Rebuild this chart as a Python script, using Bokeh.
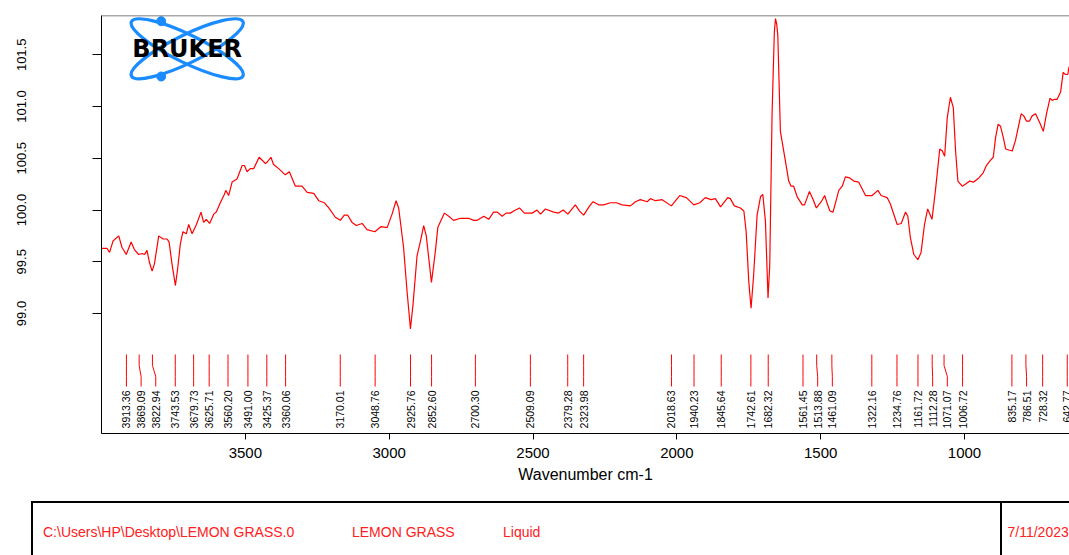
import math
from bokeh.plotting import figure
from bokeh.models import Range1d, FixedTicker, PrintfTickFormatter, Span, Div
from bokeh.layouts import column
from bokeh.embed import file_html
from bokeh.resources import INLINE
from bokeh.core.properties import value

# ---------------- data ----------------
wavenumber = [
    3998, 3981, 3972, 3960, 3940, 3929, 3914, 3897, 3886, 3871, 3859, 3850, 3842, 3833, 3824, 3816,
    3801, 3786, 3772, 3765, 3755, 3743, 3735, 3726, 3717, 3705, 3697, 3685, 3670, 3654, 3645, 3636,
    3624, 3610, 3601, 3587, 3573, 3568, 3558, 3546, 3529, 3511, 3503, 3494, 3483, 3471, 3452, 3430,
    3425, 3411, 3402, 3384, 3361, 3347, 3326, 3303, 3285, 3262, 3245, 3225, 3210, 3187, 3170, 3156,
    3144, 3129, 3114, 3094, 3077, 3050, 3028, 3007, 2990, 2976, 2967, 2950, 2938, 2926, 2917, 2903,
    2892, 2880, 2871, 2853, 2839, 2831, 2808, 2793, 2776, 2752, 2724, 2706, 2694, 2671, 2654, 2637,
    2625, 2607, 2594, 2579, 2567, 2547, 2530, 2503, 2486, 2474, 2457, 2428, 2411, 2395, 2379, 2353,
    2338, 2324, 2303, 2291, 2272, 2254, 2231, 2210, 2190, 2161, 2144, 2127, 2103, 2092, 2074, 2051,
    2019, 1990, 1967, 1941, 1920, 1901, 1881, 1866, 1848, 1823, 1814, 1800, 1779, 1767, 1759, 1750,
    1742, 1733, 1721, 1709, 1701, 1692, 1683, 1677, 1669, 1661, 1657, 1653, 1649, 1640, 1626, 1611,
    1603, 1594, 1582, 1564, 1556, 1539, 1526, 1515, 1498, 1486, 1477, 1468, 1457, 1437, 1425, 1414,
    1399, 1385, 1368, 1344, 1333, 1321, 1301, 1290, 1269, 1258, 1234, 1220, 1205, 1197, 1188, 1176,
    1162, 1151, 1139, 1128, 1113, 1101, 1086, 1077, 1069, 1060, 1049, 1039, 1031, 1023, 1008, 997,
    982, 968, 950, 935, 924, 910, 900, 892, 883, 875, 865, 857, 846, 834, 823, 803,
    794, 785, 774, 765, 753, 738, 726, 715, 703, 695, 687, 678, 666, 657, 649, 641,
    637, 630,
]
transmittance = [
    99.63, 99.63, 99.59, 99.70, 99.75, 99.64, 99.57, 99.69, 99.62, 99.57, 99.58, 99.57, 99.61, 99.49, 99.41, 99.48,
    99.75, 99.72, 99.72, 99.69, 99.48, 99.27, 99.44, 99.67, 99.79, 99.77, 99.86, 99.77, 99.86, 99.98, 99.88, 99.91,
    99.87, 99.96, 99.98, 100.07, 100.15, 100.19, 100.14, 100.27, 100.30, 100.43, 100.43, 100.37, 100.40, 100.40, 100.51, 100.45,
    100.46, 100.51, 100.44, 100.40, 100.34, 100.37, 100.23, 100.23, 100.17, 100.16, 100.09, 100.07, 100.02, 99.93, 99.90, 99.95,
    99.95, 99.88, 99.85, 99.87, 99.81, 99.79, 99.84, 99.83, 99.96, 100.09, 100.02, 99.64, 99.22, 98.85, 99.09, 99.56,
    99.69, 99.85, 99.75, 99.30, 99.61, 99.83, 99.97, 99.94, 99.90, 99.92, 99.92, 99.90, 99.90, 99.94, 99.91, 99.98,
    99.98, 99.94, 99.97, 99.97, 99.99, 100.02, 99.97, 99.97, 100.00, 99.96, 100.01, 99.98, 99.97, 100.00, 99.96, 100.05,
    99.99, 99.95, 100.04, 100.08, 100.05, 100.05, 100.07, 100.07, 100.05, 100.04, 100.08, 100.10, 100.08, 100.11, 100.09, 100.10,
    100.04, 100.14, 100.12, 100.05, 100.07, 100.12, 100.10, 100.11, 100.03, 100.12, 100.11, 100.04, 100.02, 99.99, 99.79, 99.31,
    99.05, 99.37, 99.95, 100.13, 100.15, 99.89, 99.15, 99.47, 100.92, 101.72, 101.85, 101.80, 101.69, 100.76, 100.53, 100.28,
    100.23, 100.23, 100.13, 100.05, 100.05, 100.18, 100.10, 100.02, 100.08, 100.14, 100.06, 99.99, 99.98, 100.19, 100.23, 100.32,
    100.31, 100.28, 100.27, 100.14, 100.14, 100.14, 100.19, 100.14, 100.12, 100.06, 99.86, 99.87, 99.98, 99.94, 99.73, 99.57,
    99.52, 99.59, 99.86, 100.01, 99.91, 100.19, 100.59, 100.57, 100.52, 100.89, 101.09, 100.99, 100.57, 100.28, 100.23, 100.25,
    100.28, 100.27, 100.31, 100.36, 100.43, 100.48, 100.51, 100.70, 100.83, 100.81, 100.70, 100.59, 100.58, 100.57, 100.67, 100.93,
    100.91, 100.86, 100.86, 100.91, 100.93, 100.84, 100.76, 100.93, 101.08, 101.06, 101.07, 101.07, 101.14, 101.33, 101.31, 101.31,
    101.38, 101.40,
]
peak_positions = [
    3913.36, 3869.09, 3822.94, 3743.53, 3679.73, 3625.71, 3560.20, 3491.00, 3425.37, 3360.06,
    3170.01, 3048.76, 2925.76, 2852.60, 2700.30, 2509.09, 2379.28, 2323.98, 2018.63, 1940.23,
    1845.64, 1742.61, 1682.32, 1561.45, 1513.88, 1461.09, 1322.16, 1234.76, 1161.72, 1112.28,
    1071.07, 1006.72, 835.17, 786.51, 728.32, 642.77,
]
x_ticks = [3500, 3000, 2500, 2000, 1500, 1000]
y_ticks = [99.0, 99.5, 100.0, 100.5, 101.0, 101.5]
x_title = "Wavenumber cm-1"
logo_text = "BRUKER"
footer_texts = ["C:\\Users\\HP\\Desktop\\LEMON GRASS.0", "LEMON GRASS", "Liquid", "7/11/2023"]

# ---------------- layout constants ----------------
W = 1069
H1 = 488
H2 = 555 - H1
X0, X1 = 4000.0, 635.0
Y0, Y1 = 97.84, 101.88
FL, FT = 101.0, 15.0          # frame left/top in page px
FW, FH = 968.0, 418.0          # frame size
RED = "#ff0000"
FONT = "Liberation Sans"


def tx(sx):
    return X0 + (sx - FL) / FW * (X1 - X0)


def ty(sy):
    return Y1 - (sy - FT) / FH * (Y1 - Y0)


p = figure(width=W, height=H1, x_range=Range1d(X0, X1), y_range=Range1d(Y0, Y1),
           output_backend="svg", toolbar_location=None,
           min_border_left=101, min_border_right=0, min_border_top=15, min_border_bottom=55)
p.outline_line_color = None
p.grid.visible = False
p.background_fill_color = "white"
p.border_fill_color = "white"

# axes
xa = p.xaxis[0]
xa.ticker = FixedTicker(ticks=x_ticks)
xa.minor_tick_line_color = None
xa.major_tick_out = 6
xa.major_tick_in = 0
xa.major_label_standoff = 8
xa.major_label_text_font = FONT
xa.major_label_text_font_size = "15px"
xa.major_label_text_color = "black"
xa.axis_label = x_title
xa.axis_label_text_font = FONT
xa.axis_label_text_font_size = "16px"
xa.axis_label_text_font_style = "normal"
xa.axis_label_text_color = "black"
xa.axis_label_standoff = 5
xa.axis_line_color = "black"
xa.major_tick_line_color = "black"

ya = p.yaxis[0]
ya.ticker = FixedTicker(ticks=y_ticks)
ya.formatter = PrintfTickFormatter(format="%.1f")
ya.minor_tick_line_color = None
ya.major_label_orientation = "vertical"
ya.major_tick_out = 9
ya.major_tick_in = 0
ya.major_label_standoff = 66
ya.major_label_text_font = FONT
ya.major_label_text_font_size = "13px"
ya.major_label_text_color = "black"
ya.axis_line_color = "black"
ya.major_tick_line_color = "black"

p.add_layout(Span(location=Y1, dimension="width", line_color="#555555", line_width=1.5))

# spectrum
p.line(wavenumber, transmittance, line_color=RED, line_width=1.2)

# peak label placement (minimum spacing between labels)
gap = 51.0
label_pos = []
for i, pk in enumerate(peak_positions):
    if i == 0:
        label_pos.append(pk)
    else:
        label_pos.append(min(pk, label_pos[-1] - gap))

ya_top, ya_k1, ya_k2, ya_bot = ty(354), ty(365), ty(376), ty(386)
xs = [[pk, pk, lp, lp] for pk, lp in zip(peak_positions, label_pos)]
ys = [[ya_top, ya_k1, ya_k2, ya_bot] for _ in peak_positions]
p.multi_line(xs, ys, line_color=RED, line_width=1)
p.text(x=label_pos, y=[ty(390)] * len(label_pos), text=["%.2f" % v for v in peak_positions],
       angle=math.pi / 2, text_align="right", text_baseline="middle",
       text_font=value(FONT), text_font_size="10.5px", text_color="black")

# logo
cx, cy = 186.7, 48.3
for ang in (-26.0, 26.0):
    p.ellipse(x=[tx(cx)], y=[ty(cy)], width=124, height=28, width_units="screen", height_units="screen",
              angle=math.radians(ang), fill_color=None, line_color="#1a8cff", line_width=3.3)
p.scatter(x=[tx(160.7), tx(160.7)], y=[ty(20.7), ty(76.0)], size=9, marker="circle",
          fill_color="#1a8cff", line_color="#1a8cff")
p.text(x=[tx(cx)], y=[ty(cy)], text=[logo_text], text_align="center", text_baseline="middle",
       text_font=value("DejaVu Sans"), text_font_style="bold", text_font_size="24px", text_color="black")

# ---------------- footer box (HTML) ----------------
text_left = [43, 352, 503, 1007.5]
spans = "".join(
    '<span style="position:absolute;left:%spx;top:%spx;white-space:nowrap;">%s</span>' % (lx, 532 - 8 - H1, t)
    for lx, t in zip(text_left, footer_texts)
)
box_top = 501.5 - H1 - 1
footer_html = (
    '<div style="position:relative;width:%dpx;height:%dpx;overflow:hidden;'
    'font-family:\'Liberation Sans\',Arial,sans-serif;font-size:14px;color:#ff2020;line-height:16px;">'
    '<div style="position:absolute;left:31px;top:%spx;width:1100px;height:80px;'
    'border-top:2px solid #000;border-left:2px solid #000;"></div>'
    '<div style="position:absolute;left:999.5px;top:%spx;width:0;height:80px;border-left:2px solid #000;"></div>'
    '%s</div>'
) % (W, H2, box_top, box_top, spans)
footer = Div(text=footer_html, width=W, height=H2, margin=(0, 0, 0, 0))

layout = column(p, footer, spacing=0)
open("out.html", "w").write(file_html(layout, INLINE))
